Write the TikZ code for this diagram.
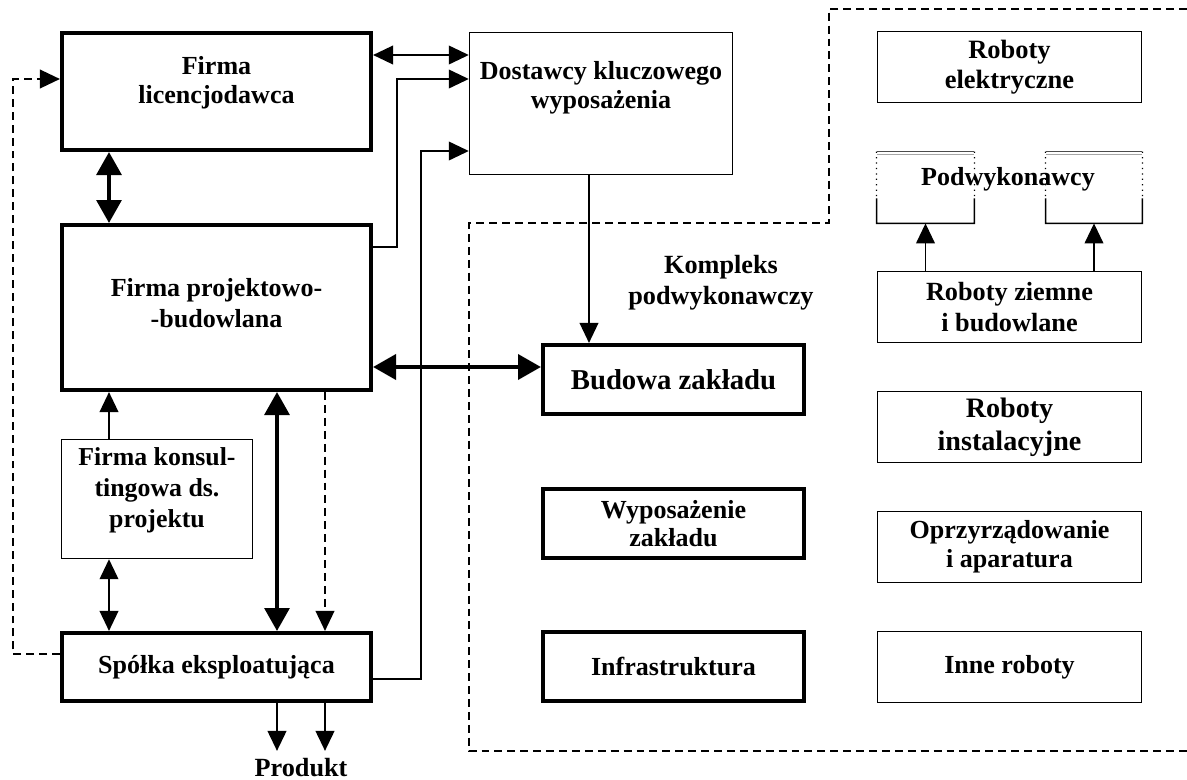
\documentclass[tikz,border=0pt]{standalone}
\usepackage{fontspec}
\setmainfont{Liberation Serif}
\usetikzlibrary{arrows.meta,positioning,calc}

\begin{document}
\begin{tikzpicture}[x=0.48pt, y=-0.48pt,
  thickbox/.style={draw, line width=2pt, align=center, inner sep=2pt},
  thinbox/.style={draw, line width=0.7pt, align=center, inner sep=2pt},
  sz/.style 2 args={minimum width=#1*0.48pt, minimum height=#2*0.48pt},
  fs/.style 2 args={font=\fontsize{#1}{#2}\selectfont\bfseries},
  arr/.style={-{Triangle[length=9.6pt, width=9pt]}, line width=0.7pt},
  dblarr/.style={{Triangle[length=9.6pt, width=9pt]}-{Triangle[length=9.6pt, width=9pt]}, line width=0.7pt},
  bigarr/.style={{Triangle[length=11pt, width=12pt]}-{Triangle[length=11pt, width=12pt]}, line width=1.5pt},
  dashln/.style={dash pattern=on 3.8pt off 2.4pt, line width=0.7pt}]
  \useasboundingbox (0,0) rectangle (1187,780);

  % columns and rows for the connectors
  \coordinate (cL) at (13,0);
  \coordinate (cA) at (109,0);
  \coordinate (cB) at (277,0);
  \coordinate (cC) at (325,0);
  \coordinate (cD) at (397,0);
  \coordinate (cE) at (421,0);
  \coordinate (cF) at (589,0);
  \coordinate (rA) at (0,55);
  \coordinate (rC) at (0,79);
  \coordinate (rE) at (0,151);
  \coordinate (rB) at (0,247);
  \coordinate (rF) at (0,367);
  \coordinate (rG) at (0,654);
  \coordinate (rD) at (0,679);

  % left part
  \node[thickbox, fs={12.5}{14}, sz={309}{117}, text depth=11.3pt] (lic) at (216.5,91.5) {Firma\\licencjodawca};
  \node[thickbox, fs={12.5}{15}, sz={309}{165}, text depth=4pt] (proj) at (216.5,307.5) {Firma projektowo-\\-budowlana};
  \node[thinbox, fs={12.4}{15}, sz={191}{119}, text depth=11.2pt] (kons) at (157,499) {Firma konsul-\\tingowa ds.\\projektu};
  \node[thickbox, fs={12.5}{15}, sz={309}{68}] (spolka) at (216.5,667) {Spółka eksploatująca};
  \node[fs={12.6}{15}] (produkt) at (301,767.5) {Produkt};
  \node[thinbox, fs={12.5}{13.8}, sz={263}{142}, text depth=17.6pt] (dost) at (601,103.5) {Dostawcy kluczowego\\wyposażenia};

  % subcontractor complex
  \draw[dashln] (1187,9) -- (829,9) -- (829,223) -- (469,223) -- (469,751) -- (1187,751);
  \node[fs={12.6}{15}, align=center] (kompl) at (721,282.5) {Kompleks\\podwykonawczy};
  \node[thickbox, fs={13.8}{16}, sz={261}{69}] (bud) at (673.5,379.5) {Budowa zakładu};
  \node[thickbox, fs={12.5}{13.6}, sz={261}{69}] (wyp) at (673.5,523.5) {Wyposażenie\\zakładu};
  \node[thickbox, fs={12.5}{15}, sz={261}{69}] (infra) at (673.5,666.5) {Infrastruktura};

  \node[thinbox, fs={12.7}{14.4}, sz={264}{71}] (elek) at (1009.5,67) {Roboty\\elektryczne};
  \node[sz={97}{71}] (podl) at (925.5,187.5) {};
  \node[sz={96}{71}] (podr) at (1094,187.5) {};
  \foreach \b in {podl,podr}{
    \draw[line width=0.4pt, black!70] (\b.north west) -- (\b.north east);
    \draw[line width=0.4pt, black!35] ([yshift=-1.3pt]\b.north west) -- ([yshift=-1.3pt]\b.north east);
    \draw[dotted, line width=0.6pt] (\b.north west) -- ($(\b.north west)!0.65!(\b.south west)$);
    \draw[dotted, line width=0.6pt] (\b.north east) -- ($(\b.north east)!0.65!(\b.south east)$);
    \draw[line width=0.7pt] ($(\b.north west)!0.65!(\b.south west)$) -- (\b.south west)
      -- (\b.south east) -- ($(\b.north east)!0.65!(\b.south east)$);
  }
  \node[fs={12.5}{14}] (podtxt) at (1008,179.5) {Podwykonawcy};
  \node[thinbox, fs={12.6}{15}, sz={264}{71}] (ziem) at (1009.5,307) {Roboty ziemne\\i budowlane};
  \node[thinbox, fs={13.5}{16}, sz={264}{71}] (inst) at (1009.5,427) {Roboty\\instalacyjne};
  \node[thinbox, fs={12.5}{14}, sz={264}{71}] (oprz) at (1009.5,547) {Oprzyrządowanie\\i aparatura};
  \node[thinbox, fs={12.5}{14}, sz={264}{71}] (inne) at (1009.5,667) {Inne roboty};

  % connectors
  \draw[bigarr] (lic.south -| cA) -- (proj.north -| cA);
  \draw[dblarr] (lic.east |- rA) -- (dost.west |- rA);
  \draw[arr] (proj.east |- rB) -- (cD |- rB) -- (cD |- rC) -- (dost.west |- rC);
  \draw[arr] (spolka.east |- rD) -- (cE |- rD) -- (cE |- rE) -- (dost.west |- rE);
  \draw[arr] (dost.south -| cF) -- (bud.north -| cF);
  \draw[bigarr, line width=1.8pt] (proj.east |- rF) -- (bud.west |- rF);
  \draw[arr] (kons.north -| cA) -- (proj.south -| cA);
  \draw[dblarr] (kons.south -| cA) -- (spolka.north -| cA);
  \draw[bigarr] (proj.south -| cB) -- (spolka.north -| cB);
  \draw[arr, dashln] (proj.south -| cC) -- (spolka.north -| cC);
  \draw[arr, line width=0.9pt] (spolka.south -| cB) -- (produkt.north -| cB);
  \draw[arr, line width=0.9pt] (spolka.south -| cC) -- (produkt.north -| cC);
  \draw[arr, dashln] (spolka.west |- rG) -- (cL |- rG) -- (cL |- rC) -- (lic.west |- rC);
  \draw[arr] (ziem.north -| podl.south) -- (podl.south);
  \draw[arr] (ziem.north -| podr.south) -- (podr.south);
\end{tikzpicture}
\end{document}
